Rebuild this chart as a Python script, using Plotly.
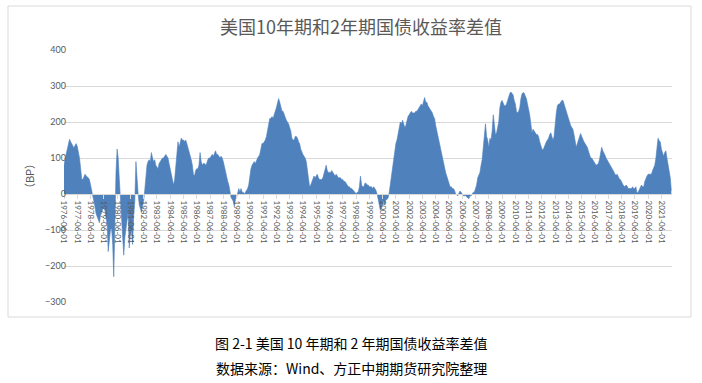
import pandas as pd
import plotly.graph_objects as go

# Monthly 10Y-2Y spread (bp), starting 1976-06
spread_1976_1979 = [
    80, 100, 112, 125, 140, 152, 145,
    140, 132, 128, 135, 140, 132, 118, 100, 72, 42, 40, 50,
    55, 50, 48, 45, 40, 25, 12, 0, -15, -35, -55, -65,
    -72, -80, -60, -50, -42, -35, -45, -65, -85, -160, -115, -100,
]
spread_1980s = [
    -95, -140, -230, -60, 60, 125, 100, 40, -10, -40, -100, -170,
    -120, -100, -70, -50, -150, -110, -100, -140, -60, -20, 90, 30,
    0, -30, -40, -50, -35, -20, 10, 60, 80, 90, 95, 90,
    115, 100, 90, 95, 80, 75, 70, 85, 90, 95, 100, 100,
    105, 110, 105, 100, 85, 70, 55, 35, 25, 40, 70, 100,
    145, 130, 140, 155, 150, 150, 145, 150, 140, 130, 120, 110,
    95, 80, 55, 50, 65, 70, 70, 80, 115, 90, 80, 85,
    85, 80, 85, 95, 100, 100, 105, 110, 105, 115, 120, 110,
    110, 105, 100, 105, 100, 90, 75, 65, 50, 35, 25, 10,
    -10, -15, -20, -35, -15, -10, 5, 15, 5, 15, 5, 5,
]
spread_1990s = [
    0, 5, 10, 15, 25, 50, 70, 80, 85, 90, 85, 95,
    100, 105, 110, 125, 140, 140, 145, 150, 160, 175, 195, 210,
    210, 215, 210, 225, 230, 240, 255, 265, 255, 240, 230, 230,
    220, 215, 205, 200, 195, 185, 175, 155, 150, 150, 160, 160,
    155, 145, 140, 125, 115, 110, 105, 100, 90, 65, 40, 20,
    25, 35, 45, 50, 45, 50, 55, 45, 40, 40, 40, 45,
    55, 70, 80, 65, 60, 60, 60, 65, 60, 55, 50, 55,
    50, 45, 45, 45, 40, 40, 35, 35, 30, 25, 20, 20,
    15, 15, 12, 10, 5, 0, 5, 5, 20, 50, 25, 20,
    20, 30, 30, 25, 25, 20, 20, 20, 15, 20, 15, 10,
]
spread_2000s = [
    0, -15, -30, -45, -40, -25, -20, -30, -15, -15, -10, 5,
    30, 55, 75, 100, 125, 140, 150, 165, 185, 200, 195, 205,
    195, 185, 190, 205, 215, 220, 225, 230, 225, 225, 225, 230,
    230, 235, 240, 245, 250, 245, 260, 268, 255, 255, 245, 240,
    235, 230, 225, 215, 210, 190, 175, 165, 145, 130, 115, 100,
    85, 75, 60, 50, 40, 30, 20, 20, 15, 15, 10, 0,
    -2, -5, 2, 8, 5, 0, -5, -5, -5, -8, -12, -13,
    -5, -5, 0, 5, 5, 15, 25, 45, 55, 60, 80, 95,
    130, 170, 195, 160, 150, 130, 155, 150, 175, 220, 185, 165,
    170, 185, 200, 240, 255, 260, 250, 245, 245, 250, 260, 270,
]
spread_2010_2022 = [
    280, 283, 280, 275, 260, 250, 230, 225, 230, 240, 265, 278,
    282, 280, 272, 265, 250, 235, 220, 195, 170, 180, 175, 170,
    165, 165, 160, 145, 135, 125, 122, 130, 140, 145, 150, 155,
    165, 170, 160, 150, 160, 200, 225, 245, 250, 250, 255, 260,
    260, 250, 235, 228, 220, 210, 200, 190, 185, 180, 165, 145,
    130, 140, 150, 160, 168, 160, 150, 145, 140, 135, 130, 120,
    110, 100, 100, 95, 90, 85, 80, 82, 85, 95, 120, 130,
    120, 115, 108, 100, 95, 88, 85, 80, 75, 70, 62, 55,
    52, 55, 48, 42, 40, 32, 28, 22, 20, 25, 22, 15,
    15, 16, 15, 20, 15, 15, 20, 3, 5, 12, 18, 25,
    20, 20, 35, 45, 50, 55, 55, 55, 55, 65, 72, 80,
    100, 130, 155, 148, 145, 125, 110, 105, 115, 120, 100, 80,
    70, 45, 10,
]
tick_years = list(range(1976, 2022))

values = spread_1976_1979 + spread_1980s + spread_1990s + spread_2000s + spread_2010_2022
dates = pd.date_range("1976-06-01", periods=len(values), freq="MS")
tick_vals = [f"{y}-06-01" for y in tick_years]

title_text = "美国10年期和2年期国债收益率差值"
caption1 = "图 2-1 美国 10 年期和 2 年期国债收益率差值"
caption2 = "数据来源：Wind、方正中期期货研究院整理"

fig = go.Figure()
fig.add_trace(go.Scatter(
    x=dates, y=values, mode="lines",
    line=dict(width=0.6, color="#4F81BD"),
    fill="tozeroy", fillcolor="#4F81BD",
    hoverinfo="x+y", showlegend=False,
))

cjk = "Noto Sans CJK SC"
gray = "#595959"

fig.update_layout(
    width=702, height=383,
    margin=dict(l=64, r=30, t=50, b=81),
    paper_bgcolor="white", plot_bgcolor="white",
    title=dict(text=title_text, x=361 / 702, xanchor="center",
               y=1 - 28 / 383, yanchor="middle",
               font=dict(family=cjk, size=18, color=gray)),
    xaxis=dict(
        type="date", range=["1976-06-01", "2022-03-20"],
        tickvals=tick_vals, ticktext=tick_vals, tickangle=90,
        tickfont=dict(family="Lato, Liberation Sans, sans-serif", size=8, color=gray),
        showgrid=False, zeroline=False,
        anchor="free", position=300 / 700,
        showline=True, linecolor="#D9D9D9", linewidth=1,
        ticks="outside", ticklen=4, tickcolor="#D9D9D9",
    ),
    yaxis=dict(
        range=[-300, 400], dtick=100, tick0=0,
        gridcolor="#D9D9D9", gridwidth=1, zeroline=False,
        tickfont=dict(family="Lato, Liberation Sans, sans-serif", size=9, color=gray),
        ticks="", showline=False, ticklabelstandoff=-3,
        title=dict(text="（BP）", font=dict(family=cjk, size=11, color=gray), standoff=8),
    ),
)

# outer chart border
fig.add_shape(type="rect", xref="paper", yref="paper",
              x0=(8 - 64) / 608, x1=(691 - 64) / 608,
              y0=(302 - 317) / 252, y1=(302 - 6) / 252,
              line=dict(color="#D9D9D9", width=1), layer="below")

fig.add_annotation(text=caption1, xref="paper", yref="paper",
                   x=(351 - 64) / 608, y=(302 - 343) / 252,
                   xanchor="center", yanchor="middle", showarrow=False,
                   font=dict(family=cjk, size=14, color="black"))
fig.add_annotation(text=caption2, xref="paper", yref="paper",
                   x=(351 - 64) / 608, y=(302 - 368) / 252,
                   xanchor="center", yanchor="middle", showarrow=False,
                   font=dict(family=cjk, size=14, color="black"))

fig.write_html("out.html",
               config={"displayModeBar": False},
               post_script="document.body.style.margin='0';document.body.style.overflow='hidden';")
